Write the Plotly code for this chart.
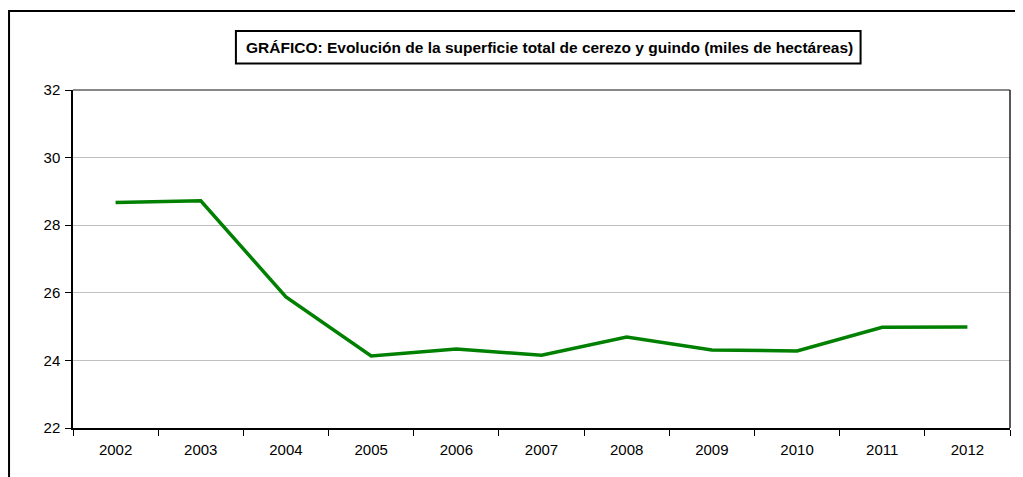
import plotly.graph_objects as go

years = ["2002", "2003", "2004", "2005", "2006", "2007", "2008", "2009", "2010", "2011", "2012"]
superficie = [28.67, 28.72, 25.88, 24.13, 24.34, 24.15, 24.69, 24.31, 24.28, 24.98, 24.99]
y_ticks = [22, 24, 26, 28, 30, 32]
title_text = "GRÁFICO: Evolución de la superficie total de cerezo y guindo (miles de hectáreas)"

# page has an 8px body margin, so figure coords = page coords - 8
OFF = 8
W, H = 1023 - OFF, 477 - OFF
L, T = 73 - OFF, 90 - OFF
R = W - (1010.5 - OFF)
B = H - (428 - OFF)
pw, ph = W - L - R, H - T - B

def px(x):
    return (x - OFF - L) / pw

def py(y):
    return (H - B - (y - OFF)) / ph

fig = go.Figure()
fig.add_trace(go.Scatter(
    x=years, y=superficie, mode="lines",
    line=dict(color="#008000", width=3.5),
    showlegend=False, hoverinfo="x+y",
))

fig.update_layout(
    width=W, height=H,
    margin=dict(l=L, r=R, t=T, b=B, pad=0),
    paper_bgcolor="white", plot_bgcolor="white",
    font=dict(family="Liberation Sans, Arial, sans-serif", size=15, color="black"),
    xaxis=dict(
        type="category", range=[-0.5, 10.5], tickson="boundaries",
        ticks="outside", ticklen=6,
        tickcolor="black", showgrid=False, showline=True, linecolor="black",
        linewidth=1.5, ticklabelstandoff=7, zeroline=False,
    ),
    yaxis=dict(
        range=[22, 32], tickvals=y_ticks, ticks="outside", ticklen=6,
        tickcolor="black", showgrid=True, gridcolor="#C0C0C0", gridwidth=1,
        showline=True, linecolor="black", linewidth=1.5, zeroline=False,
        ticklabelstandoff=2,
    ),
    shapes=[
        dict(type="line", xref="paper", yref="paper", x0=0, x1=1, y0=1, y1=1,
             line=dict(color="#606060", width=1.5)),
        dict(type="line", xref="paper", yref="paper", x0=1, x1=1, y0=0, y1=1,
             line=dict(color="#202020", width=1.5)),
        dict(type="rect", xref="paper", yref="paper",
             x0=px(9), x1=px(1040), y0=py(500), y1=py(11),
             line=dict(color="black", width=2)),
        dict(type="rect", xref="paper", yref="paper",
             x0=px(236), x1=px(861), y0=py(63.5), y1=py(31),
             line=dict(color="black", width=2), fillcolor="white"),
    ],
    annotations=[
        dict(text="<b>" + title_text + "</b>", xref="paper", yref="paper",
             x=px(549.5), y=py(47.5), xanchor="center", yanchor="middle",
             showarrow=False, font=dict(size=15.5, color="black")),
    ],
)

fig.write_html("out.html")
